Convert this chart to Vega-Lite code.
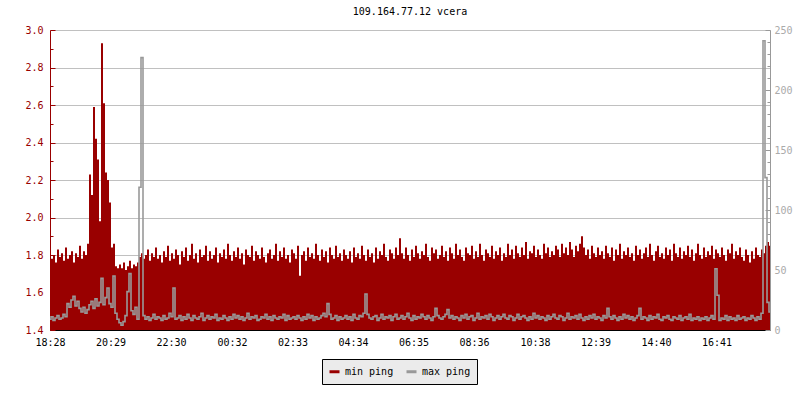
{
"$schema": "https://vega.github.io/schema/vega-lite/v6.json",
"width": 720, "height": 300,
"autosize": {"type": "none"},
"padding": {"left": 50, "top": 30, "right": 30, "bottom": 70},
"background": "white",
"title": {"text": "109.164.77.12 vcera", "font": "DejaVu Sans Mono", "fontSize": 10, "fontWeight": "normal", "color": "black", "anchor": "middle", "offset": 8},
"data": {"values": [
{"t":0,"a":1.82,"b":9},{"t":4,"a":1.78,"b":11},{"t":8,"a":1.80,"b":8},{"t":12,"a":1.76,"b":10},{"t":16,"a":1.83,"b":12},{"t":20,"a":1.79,"b":9},{"t":24,"a":1.81,"b":10},{"t":28,"a":1.77,"b":13},{"t":32,"a":1.84,"b":11},{"t":36,"a":1.78,"b":22},
{"t":40,"a":1.80,"b":19},{"t":44,"a":1.82,"b":25},{"t":48,"a":1.76,"b":28},{"t":52,"a":1.81,"b":20},{"t":56,"a":1.79,"b":24},{"t":60,"a":1.85,"b":18},{"t":64,"a":1.78,"b":15},{"t":68,"a":1.82,"b":19},{"t":72,"a":1.80,"b":14},{"t":76,"a":1.86,"b":17},
{"t":80,"a":2.23,"b":21},{"t":84,"a":2.12,"b":24},{"t":88,"a":2.59,"b":18},{"t":92,"a":2.42,"b":26},{"t":96,"a":2.31,"b":20},{"t":100,"a":1.98,"b":23},{"t":104,"a":2.93,"b":43},{"t":108,"a":2.61,"b":21},{"t":112,"a":2.24,"b":27},{"t":116,"a":2.20,"b":35},
{"t":120,"a":2.08,"b":22},{"t":124,"a":1.84,"b":19},{"t":128,"a":1.86,"b":45},{"t":132,"a":1.74,"b":14},{"t":136,"a":1.73,"b":9},{"t":140,"a":1.75,"b":6},{"t":144,"a":1.73,"b":4},{"t":148,"a":1.76,"b":7},{"t":152,"a":1.72,"b":12},{"t":156,"a":1.74,"b":32},
{"t":160,"a":1.77,"b":47},{"t":164,"a":1.73,"b":16},{"t":168,"a":1.75,"b":13},{"t":172,"a":1.74,"b":19},{"t":176,"a":1.76,"b":9},{"t":180,"a":1.79,"b":119},{"t":184,"a":1.81,"b":227},{"t":188,"a":1.78,"b":12},{"t":192,"a":1.80,"b":9},{"t":196,"a":1.83,"b":11},
{"t":200,"a":1.77,"b":8},{"t":204,"a":1.81,"b":10},{"t":208,"a":1.79,"b":13},{"t":212,"a":1.84,"b":9},{"t":216,"a":1.78,"b":11},{"t":220,"a":1.80,"b":10},{"t":224,"a":1.76,"b":8},{"t":228,"a":1.82,"b":12},{"t":232,"a":1.79,"b":9},{"t":236,"a":1.85,"b":10},
{"t":240,"a":1.77,"b":14},{"t":244,"a":1.81,"b":11},{"t":248,"a":1.78,"b":35},{"t":252,"a":1.83,"b":9},{"t":256,"a":1.80,"b":10},{"t":260,"a":1.75,"b":12},{"t":264,"a":1.82,"b":8},{"t":268,"a":1.79,"b":11},{"t":272,"a":1.84,"b":9},{"t":276,"a":1.77,"b":13},
{"t":280,"a":1.80,"b":10},{"t":284,"a":1.86,"b":8},{"t":288,"a":1.78,"b":12},{"t":292,"a":1.81,"b":10},{"t":296,"a":1.76,"b":9},{"t":300,"a":1.83,"b":11},{"t":304,"a":1.79,"b":14},{"t":308,"a":1.80,"b":8},{"t":312,"a":1.85,"b":10},{"t":316,"a":1.77,"b":12},
{"t":320,"a":1.82,"b":9},{"t":324,"a":1.78,"b":11},{"t":328,"a":1.80,"b":10},{"t":332,"a":1.84,"b":13},{"t":336,"a":1.76,"b":8},{"t":340,"a":1.81,"b":10},{"t":344,"a":1.79,"b":9},{"t":348,"a":1.83,"b":12},{"t":352,"a":1.78,"b":10},{"t":356,"a":1.86,"b":8},
{"t":360,"a":1.80,"b":11},{"t":364,"a":1.77,"b":9},{"t":368,"a":1.82,"b":13},{"t":372,"a":1.79,"b":10},{"t":376,"a":1.84,"b":12},{"t":380,"a":1.78,"b":9},{"t":384,"a":1.81,"b":11},{"t":388,"a":1.75,"b":8},{"t":392,"a":1.83,"b":10},{"t":396,"a":1.80,"b":14},
{"t":400,"a":1.79,"b":9},{"t":404,"a":1.85,"b":11},{"t":408,"a":1.77,"b":10},{"t":412,"a":1.82,"b":12},{"t":416,"a":1.80,"b":8},{"t":420,"a":1.78,"b":9},{"t":424,"a":1.84,"b":11},{"t":428,"a":1.79,"b":10},{"t":432,"a":1.76,"b":13},{"t":436,"a":1.81,"b":9},
{"t":440,"a":1.83,"b":11},{"t":444,"a":1.78,"b":8},{"t":448,"a":1.80,"b":12},{"t":452,"a":1.86,"b":10},{"t":456,"a":1.77,"b":9},{"t":460,"a":1.82,"b":11},{"t":464,"a":1.79,"b":10},{"t":468,"a":1.84,"b":13},{"t":472,"a":1.78,"b":8},{"t":476,"a":1.80,"b":12},
{"t":480,"a":1.76,"b":9},{"t":484,"a":1.83,"b":10},{"t":488,"a":1.81,"b":11},{"t":492,"a":1.78,"b":9},{"t":496,"a":1.85,"b":12},{"t":500,"a":1.69,"b":10},{"t":504,"a":1.80,"b":8},{"t":508,"a":1.82,"b":11},{"t":512,"a":1.77,"b":9},{"t":516,"a":1.84,"b":13},
{"t":520,"a":1.79,"b":10},{"t":524,"a":1.81,"b":12},{"t":528,"a":1.78,"b":8},{"t":532,"a":1.86,"b":11},{"t":536,"a":1.80,"b":9},{"t":540,"a":1.77,"b":10},{"t":544,"a":1.83,"b":12},{"t":548,"a":1.79,"b":14},{"t":552,"a":1.82,"b":11},{"t":556,"a":1.76,"b":22},
{"t":560,"a":1.84,"b":13},{"t":564,"a":1.80,"b":9},{"t":568,"a":1.78,"b":10},{"t":572,"a":1.85,"b":12},{"t":576,"a":1.79,"b":8},{"t":580,"a":1.81,"b":11},{"t":584,"a":1.77,"b":9},{"t":588,"a":1.83,"b":10},{"t":592,"a":1.80,"b":12},{"t":596,"a":1.78,"b":9},
{"t":600,"a":1.82,"b":11},{"t":604,"a":1.76,"b":8},{"t":608,"a":1.84,"b":13},{"t":612,"a":1.79,"b":10},{"t":616,"a":1.81,"b":9},{"t":620,"a":1.78,"b":12},{"t":624,"a":1.85,"b":11},{"t":628,"a":1.80,"b":14},{"t":632,"a":1.77,"b":30},{"t":636,"a":1.83,"b":13},
{"t":640,"a":1.79,"b":10},{"t":644,"a":1.81,"b":9},{"t":648,"a":1.76,"b":11},{"t":652,"a":1.84,"b":12},{"t":656,"a":1.78,"b":8},{"t":660,"a":1.82,"b":10},{"t":664,"a":1.80,"b":13},{"t":668,"a":1.86,"b":9},{"t":672,"a":1.79,"b":11},{"t":676,"a":1.77,"b":10},
{"t":680,"a":1.83,"b":12},{"t":684,"a":1.81,"b":8},{"t":688,"a":1.78,"b":11},{"t":692,"a":1.84,"b":13},{"t":696,"a":1.80,"b":9},{"t":700,"a":1.89,"b":10},{"t":704,"a":1.81,"b":12},{"t":708,"a":1.78,"b":9},{"t":712,"a":1.84,"b":11},{"t":716,"a":1.80,"b":14},
{"t":720,"a":1.77,"b":10},{"t":724,"a":1.83,"b":8},{"t":728,"a":1.79,"b":12},{"t":732,"a":1.85,"b":9},{"t":736,"a":1.81,"b":11},{"t":740,"a":1.78,"b":10},{"t":744,"a":1.82,"b":13},{"t":748,"a":1.80,"b":11},{"t":752,"a":1.86,"b":9},{"t":756,"a":1.79,"b":12},
{"t":760,"a":1.77,"b":10},{"t":764,"a":1.84,"b":8},{"t":768,"a":1.81,"b":11},{"t":772,"a":1.83,"b":18},{"t":776,"a":1.78,"b":12},{"t":780,"a":1.80,"b":10},{"t":784,"a":1.85,"b":9},{"t":788,"a":1.79,"b":11},{"t":792,"a":1.82,"b":13},{"t":796,"a":1.77,"b":17},
{"t":800,"a":1.84,"b":10},{"t":804,"a":1.81,"b":12},{"t":808,"a":1.78,"b":9},{"t":812,"a":1.86,"b":11},{"t":816,"a":1.80,"b":10},{"t":820,"a":1.83,"b":8},{"t":824,"a":1.79,"b":12},{"t":828,"a":1.77,"b":10},{"t":832,"a":1.84,"b":13},{"t":836,"a":1.81,"b":9},
{"t":840,"a":1.80,"b":11},{"t":844,"a":1.85,"b":12},{"t":848,"a":1.78,"b":8},{"t":852,"a":1.82,"b":10},{"t":856,"a":1.79,"b":14},{"t":860,"a":1.86,"b":9},{"t":864,"a":1.80,"b":11},{"t":868,"a":1.77,"b":10},{"t":872,"a":1.83,"b":12},{"t":876,"a":1.81,"b":9},
{"t":880,"a":1.79,"b":13},{"t":884,"a":1.85,"b":11},{"t":888,"a":1.78,"b":8},{"t":892,"a":1.82,"b":10},{"t":896,"a":1.80,"b":12},{"t":900,"a":1.84,"b":9},{"t":904,"a":1.77,"b":11},{"t":908,"a":1.81,"b":13},{"t":912,"a":1.79,"b":10},{"t":916,"a":1.86,"b":9},
{"t":920,"a":1.80,"b":12},{"t":924,"a":1.83,"b":11},{"t":928,"a":1.78,"b":8},{"t":932,"a":1.85,"b":10},{"t":936,"a":1.81,"b":13},{"t":940,"a":1.79,"b":9},{"t":944,"a":1.84,"b":11},{"t":948,"a":1.80,"b":12},{"t":952,"a":1.87,"b":10},{"t":956,"a":1.78,"b":8},
{"t":960,"a":1.82,"b":11},{"t":964,"a":1.81,"b":9},{"t":968,"a":1.85,"b":14},{"t":972,"a":1.79,"b":10},{"t":976,"a":1.83,"b":12},{"t":980,"a":1.80,"b":9},{"t":984,"a":1.78,"b":11},{"t":988,"a":1.86,"b":10},{"t":992,"a":1.81,"b":8},{"t":996,"a":1.84,"b":12},
{"t":1000,"a":1.79,"b":9},{"t":1004,"a":1.82,"b":11},{"t":1008,"a":1.80,"b":13},{"t":1012,"a":1.85,"b":10},{"t":1016,"a":1.83,"b":9},{"t":1020,"a":1.79,"b":12},{"t":1024,"a":1.86,"b":11},{"t":1028,"a":1.81,"b":8},{"t":1032,"a":1.84,"b":10},{"t":1036,"a":1.80,"b":14},
{"t":1040,"a":1.87,"b":9},{"t":1044,"a":1.83,"b":11},{"t":1048,"a":1.79,"b":10},{"t":1052,"a":1.85,"b":12},{"t":1056,"a":1.82,"b":9},{"t":1060,"a":1.86,"b":13},{"t":1064,"a":1.90,"b":10},{"t":1068,"a":1.84,"b":8},{"t":1072,"a":1.80,"b":11},{"t":1076,"a":1.83,"b":9},
{"t":1080,"a":1.78,"b":12},{"t":1084,"a":1.85,"b":10},{"t":1088,"a":1.81,"b":13},{"t":1092,"a":1.79,"b":9},{"t":1096,"a":1.84,"b":11},{"t":1100,"a":1.80,"b":10},{"t":1104,"a":1.82,"b":8},{"t":1108,"a":1.78,"b":12},{"t":1112,"a":1.85,"b":10},{"t":1116,"a":1.81,"b":18},
{"t":1120,"a":1.79,"b":11},{"t":1124,"a":1.84,"b":9},{"t":1128,"a":1.77,"b":12},{"t":1132,"a":1.83,"b":10},{"t":1136,"a":1.80,"b":8},{"t":1140,"a":1.86,"b":11},{"t":1144,"a":1.78,"b":9},{"t":1148,"a":1.82,"b":13},{"t":1152,"a":1.80,"b":10},{"t":1156,"a":1.84,"b":12},
{"t":1160,"a":1.79,"b":9},{"t":1164,"a":1.81,"b":11},{"t":1168,"a":1.77,"b":8},{"t":1172,"a":1.85,"b":10},{"t":1176,"a":1.80,"b":12},{"t":1180,"a":1.83,"b":18},{"t":1184,"a":1.78,"b":9},{"t":1188,"a":1.81,"b":11},{"t":1192,"a":1.84,"b":10},{"t":1196,"a":1.79,"b":8},
{"t":1200,"a":1.86,"b":12},{"t":1204,"a":1.80,"b":9},{"t":1208,"a":1.77,"b":11},{"t":1212,"a":1.82,"b":10},{"t":1216,"a":1.85,"b":13},{"t":1220,"a":1.79,"b":9},{"t":1224,"a":1.81,"b":8},{"t":1228,"a":1.78,"b":11},{"t":1232,"a":1.84,"b":10},{"t":1236,"a":1.80,"b":12},
{"t":1240,"a":1.83,"b":9},{"t":1244,"a":1.77,"b":8},{"t":1248,"a":1.86,"b":11},{"t":1252,"a":1.81,"b":10},{"t":1256,"a":1.79,"b":9},{"t":1260,"a":1.84,"b":12},{"t":1264,"a":1.78,"b":8},{"t":1268,"a":1.82,"b":10},{"t":1272,"a":1.80,"b":11},{"t":1276,"a":1.85,"b":9},
{"t":1280,"a":1.79,"b":13},{"t":1284,"a":1.83,"b":8},{"t":1288,"a":1.77,"b":10},{"t":1292,"a":1.81,"b":9},{"t":1296,"a":1.86,"b":11},{"t":1300,"a":1.80,"b":8},{"t":1304,"a":1.78,"b":10},{"t":1308,"a":1.84,"b":9},{"t":1312,"a":1.79,"b":11},{"t":1316,"a":1.82,"b":8},
{"t":1320,"a":1.80,"b":10},{"t":1324,"a":1.85,"b":12},{"t":1328,"a":1.78,"b":9},{"t":1332,"a":1.83,"b":51},{"t":1336,"a":1.81,"b":29},{"t":1340,"a":1.79,"b":8},{"t":1344,"a":1.84,"b":10},{"t":1348,"a":1.80,"b":9},{"t":1352,"a":1.77,"b":12},{"t":1356,"a":1.83,"b":8},
{"t":1360,"a":1.81,"b":11},{"t":1364,"a":1.86,"b":9},{"t":1368,"a":1.78,"b":10},{"t":1372,"a":1.82,"b":8},{"t":1376,"a":1.80,"b":12},{"t":1380,"a":1.84,"b":9},{"t":1384,"a":1.79,"b":10},{"t":1388,"a":1.77,"b":11},{"t":1392,"a":1.83,"b":8},{"t":1396,"a":1.80,"b":10},
{"t":1400,"a":1.76,"b":9},{"t":1404,"a":1.82,"b":12},{"t":1408,"a":1.78,"b":10},{"t":1412,"a":1.84,"b":8},{"t":1416,"a":1.80,"b":11},{"t":1420,"a":1.79,"b":9},{"t":1424,"a":1.83,"b":14},{"t":1428,"a":1.81,"b":241},{"t":1432,"a":1.85,"b":127},{"t":1436,"a":1.87,"b":23},{"t":1440,"a":1.85,"b":15}
]},
"layer": [
{"mark": {"type": "area", "interpolate": "step", "color": "#990000", "clip": true},
 "encoding": {
  "x": {"field": "t", "type": "quantitative", "scale": {"domain": [0, 1440], "nice": false},
        "axis": {"values": [0,121,242,364,485,606,727,848,970,1091,1212,1333],
                 "labelExpr": "timeFormat(datetime(2020,0,1,18,28+datum.value),'%H:%M')",
                 "title": null, "grid": false, "domainColor": "black", "tickColor": "black", "tickSize": -5,
                 "labelColor": "black", "labelFont": "DejaVu Sans Mono", "labelFontSize": 10, "labelPadding": 12, "labelFlush": false}},
  "y": {"field": "a", "type": "quantitative", "scale": {"domain": [1.4, 3.0], "zero": false, "nice": false},
        "axis": {"orient": "left", "values": [1.4,1.5,1.6,1.7,1.8,1.9,2.0,2.1,2.2,2.3,2.4,2.5,2.6,2.7,2.8,2.9,3.0],
                 "labelExpr": "round(datum.value*10)%2==0 ? format(datum.value,'.1f') : ''",
                 "title": null, "grid": true, "gridColor": "#c0c0c0",
                 "gridOpacity": {"condition": {"test": "round(datum.value*10)%2==0", "value": 1}, "value": 0},
                 "tickSize": {"condition": {"test": "round(datum.value*10)%2==0", "value": -5}, "value": -3},
                 "tickColor": "#990000", "domainColor": "#990000", "labelColor": "#990000",
                 "labelFont": "DejaVu Sans Mono", "labelFontSize": 10, "labelPadding": 12}},
  "y2": {"datum": 1.4}
 }},
{"mark": {"type": "line", "interpolate": "step", "strokeWidth": 1.6, "clip": true},
 "encoding": {
  "x": {"field": "t", "type": "quantitative"},
  "y": {"field": "b", "type": "quantitative", "scale": {"domain": [0, 250], "nice": false},
        "axis": {"orient": "right", "values": [0,10,20,30,40,50,60,70,80,90,100,110,120,130,140,150,160,170,180,190,200,210,220,230,240,250],
                 "labelExpr": "datum.value%50==0 ? datum.value : ''",
                 "title": null, "grid": false,
                 "tickSize": {"condition": {"test": "datum.value%50==0", "value": -5}, "value": -3},
                 "tickColor": "#999999", "domainColor": "#999999", "labelColor": "#aaaaaa",
                 "labelFont": "DejaVu Sans Mono", "labelFontSize": 10, "labelPadding": 9}},
  "color": {"datum": "max ping", "scale": {"domain": ["min ping", "max ping"], "range": ["#990000", "#999999"]},
            "legend": {"title": null, "orient": "none", "legendX": 272, "legendY": 329, "direction": "horizontal",
                       "fillColor": "#ebebeb", "strokeColor": "black", "padding": 6,
                       "labelFont": "DejaVu Sans Mono", "labelFontSize": 10, "labelColor": "black",
                       "symbolType": "stroke", "symbolStrokeWidth": 3, "symbolSize": 100, "columnPadding": 6, "labelOffset": 4}}
 }}
],
"resolve": {"scale": {"y": "independent"}},
"config": {"view": {"stroke": null}}
}
